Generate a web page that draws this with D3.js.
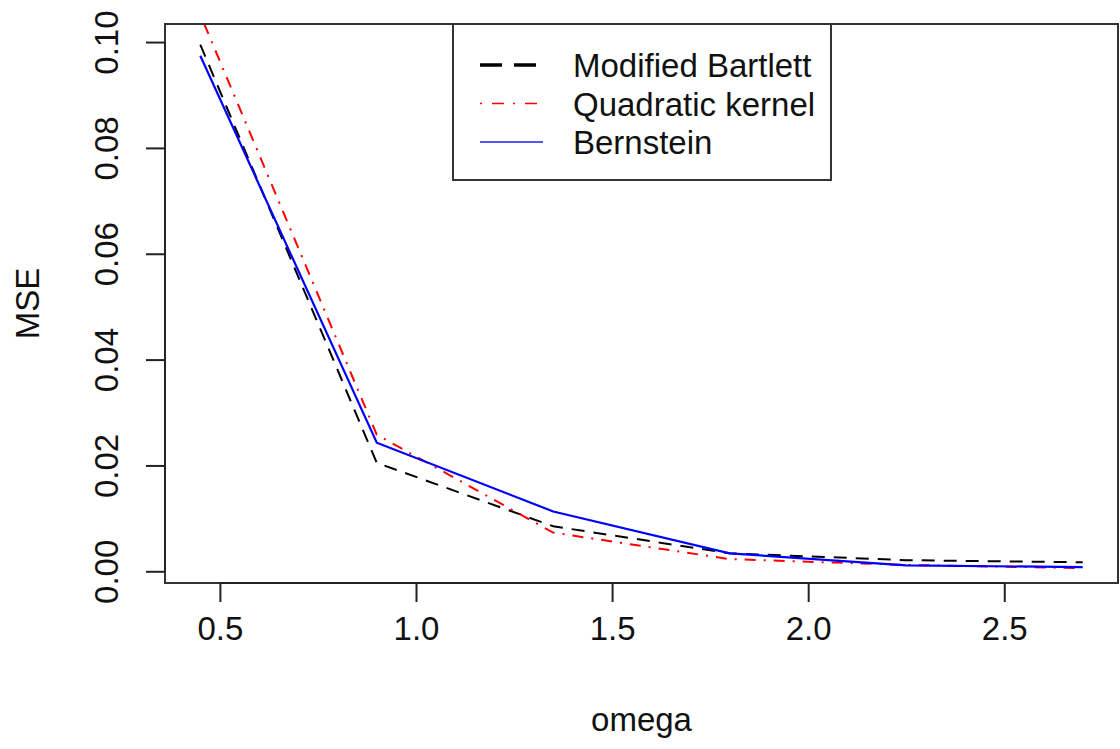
<!DOCTYPE html>
<html>
<head>
<meta charset="utf-8">
<script src="https://cdn.jsdelivr.net/npm/d3@7"></script>
<style>
  html, body { margin: 0; padding: 0; background: #fff; }
  svg { display: block; }
  text { font-family: "Liberation Sans", Arial, Helvetica, sans-serif; fill: #111; }
</style>
</head>
<body>
<svg id="chart" width="1120" height="749"></svg>
<script>
// ---- data ----
const omega = [0.45, 0.90, 1.35, 1.80, 2.25, 2.70];
const modifiedBartlett = [0.0995, 0.0205, 0.0085, 0.0034, 0.0021, 0.0017];
const quadraticKernel  = [0.1052, 0.0258, 0.0073, 0.0023, 0.0012, 0.0006];
const bernstein        = [0.0974, 0.0243, 0.0113, 0.0034, 0.0011, 0.0008];
const seriesNames = ["Modified Bartlett", "Quadratic kernel", "Bernstein"];
const xTicks = [0.5, 1.0, 1.5, 2.0, 2.5];
const xTickLabels = ["0.5", "1.0", "1.5", "2.0", "2.5"];
const yTicks = [0.00, 0.02, 0.04, 0.06, 0.08, 0.10];
const yTickLabels = ["0.00", "0.02", "0.04", "0.06", "0.08", "0.10"];
const xTitle = "omega";
const yTitle = "MSE";

// ---- layout ----
const L = 165, R = 1118, T = 24, B = 583;
const FS = 33;
const svg = d3.select("#chart");

// R-style 4% range extension; y range from first plotted series
const xe = d3.extent(omega), xp = 0.04 * (xe[1] - xe[0]);
const ye = d3.extent(modifiedBartlett), yp = 0.04 * (ye[1] - ye[0]);
const x = d3.scaleLinear().domain([xe[0] - xp, xe[1] + xp]).range([L, R]);
const y = d3.scaleLinear().domain([ye[0] - yp, ye[1] + yp]).range([B, T]);

svg.append("defs").append("clipPath").attr("id", "plotclip")
  .append("rect").attr("x", L).attr("y", T).attr("width", R - L).attr("height", B - T);

const series = [
  { name: seriesNames[0], values: modifiedBartlett, color: "#000000", dash: "13,9", width: 2 },
  { name: seriesNames[1], values: quadraticKernel,  color: "#ff0000", dash: "2,8,11,8", width: 2 },
  { name: seriesNames[2], values: bernstein,        color: "#0000ff", dash: null, width: 2.2 }
];

const line = d3.line().x((d, i) => x(omega[i])).y(d => y(d));
const g = svg.append("g").attr("clip-path", "url(#plotclip)");
series.forEach(s => {
  g.append("path").datum(s.values)
    .attr("d", line)
    .attr("fill", "none")
    .attr("stroke", s.color)
    .attr("stroke-width", s.width)
    .attr("stroke-dasharray", s.dash);
});

// box
svg.append("rect").attr("x", L).attr("y", T).attr("width", R - L).attr("height", B - T)
  .attr("fill", "none").attr("stroke", "#333").attr("stroke-width", 2);

// x axis
const xAxis = d3.axisBottom(x).tickValues(xTicks).tickFormat((d, i) => xTickLabels[i])
  .tickSize(19).tickPadding(15);
const gx = svg.append("g").attr("transform", `translate(0,${B})`).call(xAxis);
gx.select(".domain").attr("d", `M${x(xTicks[0])},0H${x(xTicks[xTicks.length-1])}`)
  .attr("stroke", "#222").attr("stroke-width", 2);
gx.selectAll(".tick line").attr("stroke", "#222").attr("stroke-width", 2);
gx.selectAll(".tick text").attr("font-size", FS).attr("font-family", null).attr("fill", "#111");

// y axis
const yAxis = d3.axisLeft(y).tickValues(yTicks).tickFormat((d, i) => yTickLabels[i])
  .tickSize(19).tickPadding(0);
const gy = svg.append("g").attr("transform", `translate(${L},0)`).call(yAxis);
gy.select(".domain").attr("d", `M0,${y(yTicks[0])}V${y(yTicks[yTicks.length-1])}`)
  .attr("stroke", "#222").attr("stroke-width", 2);
gy.selectAll(".tick line").attr("stroke", "#222").attr("stroke-width", 2);
gy.selectAll(".tick text")
  .attr("font-size", FS).attr("font-family", null).attr("fill", "#111")
  .attr("x", null).attr("dy", null)
  .attr("text-anchor", "middle")
  .attr("transform", "translate(-47,0) rotate(-90)");

// titles
svg.append("text").attr("x", (L + R) / 2).attr("y", 731).attr("text-anchor", "middle")
  .attr("font-size", FS).text(xTitle);
svg.append("text").attr("transform", `translate(39,${(T + B) / 2}) rotate(-90)`)
  .attr("text-anchor", "middle").attr("font-size", FS).text(yTitle);

// legend
const lg = svg.append("g");
const lgL = 453, lgR = 831, lgT = 24, lgB = 180;
lg.append("rect").attr("x", lgL).attr("y", lgT).attr("width", lgR - lgL).attr("height", lgB - lgT)
  .attr("fill", "#fff").attr("stroke", "#333").attr("stroke-width", 2);
const legendDash = ["22,12", "2,10,12,9", null];
const legendWidth = [3.5, 1.6, 2.2];
const legendColor = ["#000000", "#ff0000", "#5555ff"];
series.forEach((s, i) => {
  const cy = 65 + i * 38.5;
  lg.append("line").attr("x1", 480).attr("x2", 543).attr("y1", cy).attr("y2", cy)
    .attr("stroke", legendColor[i]).attr("stroke-width", legendWidth[i])
    .attr("stroke-dasharray", legendDash[i]);
  lg.append("text").attr("x", 573).attr("y", cy + 12).attr("font-size", FS).text(s.name);
});
</script>
</body>
</html>
